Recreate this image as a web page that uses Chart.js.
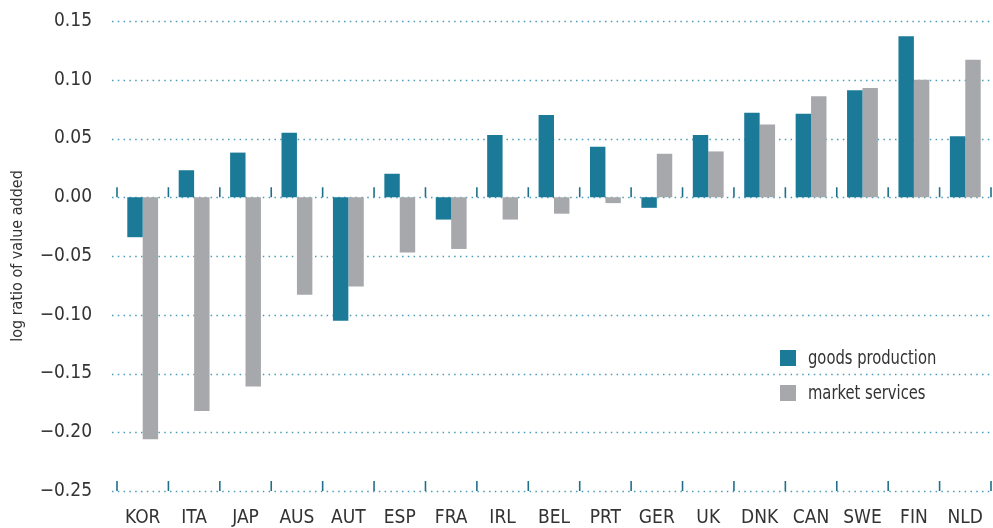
<!DOCTYPE html>
<html>
<head>
<meta charset="utf-8">
<script src="https://cdn.jsdelivr.net/npm/chart.js@4"></script>
<style>
  html, body { margin: 0; padding: 0; background: #fff; }
  #wrap { width: 993px; height: 528px; }
</style>
</head>
<body>
<div id="wrap"><canvas id="valueChart"></canvas></div>
<script>
const countries = ['KOR', 'ITA', 'JAP', 'AUS', 'AUT', 'ESP', 'FRA', 'IRL', 'BEL', 'PRT', 'GER', 'UK', 'DNK', 'CAN', 'SWE', 'FIN', 'NLD'];
const goodsProduction = [-0.034, 0.023, 0.038, 0.055, -0.105, 0.020, -0.019, 0.053, 0.070, 0.043, -0.009, 0.053, 0.072, 0.071, 0.091, 0.137, 0.052];
const marketServices = [-0.206, -0.182, -0.161, -0.083, -0.076, -0.047, -0.044, -0.019, -0.014, -0.005, 0.037, 0.039, 0.062, 0.086, 0.093, 0.100, 0.117];
const yTicks = [0.15, 0.10, 0.05, 0.00, -0.05, -0.10, -0.15, -0.20, -0.25];

const FONT = '"DejaVu Sans Condensed", "Liberation Sans Narrow", "DejaVu Sans", sans-serif';
const TEAL = '#1c7a99';
const GREY = '#a7a8ab';
const DOT = '#4b9bb6';

// dotted gridlines, category tick marks and the legend box
const decorations = {
  id: 'decorations',
  beforeDatasetsDraw(chart) {
    const { ctx, chartArea } = chart;
    const y = chart.scales.y;
    const x = chart.scales.x;
    ctx.save();
    ctx.strokeStyle = DOT;
    ctx.lineWidth = 1.5;
    ctx.setLineDash([1.5, 4.3]);
    yTicks.forEach(v => {
      const py = Math.round(y.getPixelForValue(v)) + 0.5;
      ctx.beginPath();
      ctx.moveTo(chartArea.left - 5, py);
      ctx.lineTo(chartArea.right + 2, py);
      ctx.stroke();
    });
    ctx.setLineDash([]);
    ctx.strokeStyle = '#1f6f8b';
    ctx.lineWidth = 1.6;
    const step = (chartArea.right - chartArea.left) / countries.length;
    const zero = y.getPixelForValue(0);
    const bottom = y.getPixelForValue(-0.25);
    for (let i = 0; i <= countries.length; i++) {
      const px = x.left + i * step;
      [zero, bottom].forEach(base => {
        ctx.beginPath();
        ctx.moveTo(px, base);
        ctx.lineTo(px, base - 10);
        ctx.stroke();
      });
    }
    ctx.restore();
  },
  afterDraw(chart) {
    const { ctx } = chart;
    chart.data.datasets.forEach((ds, i) => {
      const ty = 358 + i * 35;
      ctx.save();
      ctx.fillStyle = ds.backgroundColor;
      ctx.fillRect(780, ty - 8, 16, 16);
      // narrow the legend text a little
      ctx.translate(808, ty + 1);
      ctx.scale(0.82, 1);
      ctx.font = 'condensed 20px ' + FONT;
      ctx.textBaseline = 'middle';
      ctx.fillStyle = '#333';
      ctx.fillText(ds.label, 0, 0);
      ctx.restore();
    });
  }
};

const tickFont = { family: FONT, size: 19, weight: 'condensed' };

new Chart(document.getElementById('valueChart'), {
  type: 'bar',
  data: {
    labels: countries,
    datasets: [
      { label: 'goods production', data: goodsProduction, backgroundColor: TEAL },
      { label: 'market services', data: marketServices, backgroundColor: GREY }
    ]
  },
  options: {
    responsive: true,
    maintainAspectRatio: false,
    animation: false,
    layout: { padding: { top: 21, right: 2, left: 0, bottom: 0 } },
    plugins: {
      legend: { display: false },
      tooltip: { enabled: false }
    },
    datasets: {
      bar: { categoryPercentage: 0.6, barPercentage: 1.0 }
    },
    scales: {
      x: {
        grid: { display: false },
        border: { display: false },
        ticks: { color: '#333', font: tickFont, padding: 8, maxRotation: 0 },
        afterFit(scale) { scale.height = 37; scale.paddingLeft = 0; scale.paddingRight = 0; }
      },
      y: {
        min: -0.25,
        max: 0.15,
        afterBuildTicks(scale) { scale.ticks = yTicks.map(v => ({ value: v })); },
        grid: { display: false, drawTicks: false },
        border: { display: false },
        ticks: {
          color: '#333',
          font: tickFont,
          padding: 25,
          callback: v => (v < 0 ? '\u2212' : '') + Math.abs(v).toFixed(2)
        },
        title: {
          display: true,
          text: 'log ratio of value added',
          color: '#333',
          font: { family: FONT, size: 16, weight: 'condensed' },
          padding: { top: 8, bottom: 0 }
        },
        afterFit(scale) { scale.width = 117; scale.paddingTop = 0; scale.paddingBottom = 0; }
      }
    }
  },
  plugins: [decorations]
});
</script>
</body>
</html>
